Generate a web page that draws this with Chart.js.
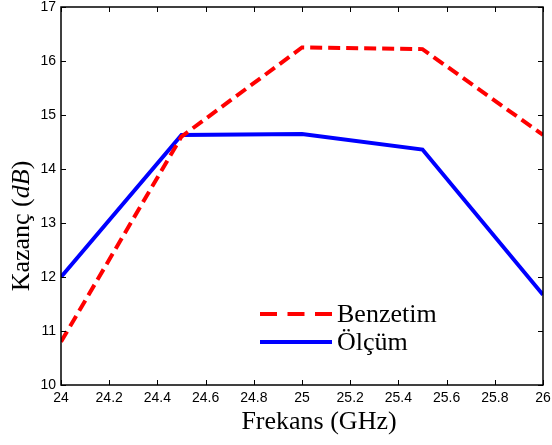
<!DOCTYPE html>
<html>
<head>
<meta charset="utf-8">
<script src="https://cdn.jsdelivr.net/npm/chart.js@4.4.1/dist/chart.umd.min.js"></script>
<style>
  html, body { margin: 0; padding: 0; background: #fff; }
  #wrap { width: 552px; height: 445px; }
</style>
</head>
<body>
<div id="wrap"><canvas id="c" width="552" height="445"></canvas></div>
<script>
// Frequency points (GHz)
const freqs = [24, 24.5, 25, 25.5, 26];
// Simulated gain (dB)
const benzetim = [10.8, 14.6, 16.25, 16.22, 14.63];
// Measured gain (dB)
const olcum = [12.0, 14.63, 14.65, 14.36, 11.67];
// Axis tick values and labels
const xTicks = [24, 24.2, 24.4, 24.6, 24.8, 25, 25.2, 25.4, 25.6, 25.8, 26];
const xTickLabels = ['24', '24.2', '24.4', '24.6', '24.8', '25', '25.2', '25.4', '25.6', '25.8', '26'];
const yTicks = [10, 11, 12, 13, 14, 15, 16, 17];
const seriesNames = ['Benzetim', 'Ölçüm'];

const tickFont = { family: 'Liberation Sans', size: 14 };
const serif = 'Liberation Serif';
const titleFont = '26px "' + serif + '"';

// Box frame with inward tick marks on all four sides
const framePlugin = {
  id: 'frame',
  afterDraw(chart) {
    const { ctx, chartArea: a, scales } = chart;
    ctx.save();
    ctx.strokeStyle = '#000';
    ctx.lineWidth = 1;
    const len = 5;
    ctx.beginPath();
    xTicks.forEach(v => {
      const x = Math.round(scales.x.getPixelForValue(v)) + 0.5;
      ctx.moveTo(x, a.bottom); ctx.lineTo(x, a.bottom - len);
      ctx.moveTo(x, a.top); ctx.lineTo(x, a.top + len);
    });
    yTicks.forEach(v => {
      const y = Math.round(scales.y.getPixelForValue(v)) + 0.5;
      ctx.moveTo(a.left, y); ctx.lineTo(a.left + len, y);
      ctx.moveTo(a.right, y); ctx.lineTo(a.right - len, y);
    });
    ctx.stroke();
    ctx.lineWidth = 1.5;
    ctx.strokeRect(a.left, a.top, a.right - a.left, a.bottom - a.top);
    ctx.restore();
  }
};

// Axis titles (y title has an italic unit)
const titlesPlugin = {
  id: 'titles',
  afterDraw(chart) {
    const { ctx } = chart;
    ctx.save();
    ctx.fillStyle = '#000';
    ctx.textBaseline = 'middle';
    ctx.textAlign = 'center';
    ctx.font = titleFont;
    ctx.fillText('Frekans (GHz)', 319, 422);

    const parts = [
      { t: 'Kazanç (', f: titleFont },
      { t: 'dB', f: 'italic ' + titleFont },
      { t: ')', f: titleFont }
    ];
    let total = 0;
    parts.forEach(p => { ctx.font = p.f; p.w = ctx.measureText(p.t).width; total += p.w; });
    ctx.translate(22, 226);
    ctx.rotate(-Math.PI / 2);
    ctx.textAlign = 'left';
    let x = -total / 2;
    parts.forEach(p => { ctx.font = p.f; ctx.fillText(p.t, x, 0); x += p.w; });
    ctx.restore();
  }
};

// Legend drawn inside the plot area
const legendPlugin = {
  id: 'innerLegend',
  afterDraw(chart) {
    const { ctx } = chart;
    ctx.save();
    const rows = [{ y: 314 }, { y: 342 }];
    chart.data.datasets.forEach((ds, i) => {
      const y = rows[i].y;
      ctx.strokeStyle = ds.borderColor;
      ctx.lineWidth = ds.borderWidth;
      ctx.setLineDash(ds.borderDash ? [17, 10.5] : []);
      ctx.beginPath();
      ctx.moveTo(260, y);
      ctx.lineTo(332, y);
      ctx.stroke();
      ctx.setLineDash([]);
      ctx.fillStyle = '#000';
      ctx.font = titleFont;
      ctx.textBaseline = 'middle';
      ctx.textAlign = 'left';
      ctx.fillText(ds.label, 337, y + 1);
    });
    ctx.restore();
  }
};

new Chart(document.getElementById('c'), {
  type: 'line',
  data: {
    datasets: [
      {
        label: seriesNames[0],
        data: freqs.map((f, i) => ({ x: f, y: benzetim[i] })),
        borderColor: '#ff0000',
        borderWidth: 4,
        borderDash: [12, 6],
        borderCapStyle: 'butt',
        pointRadius: 0,
        tension: 0,
        fill: false
      },
      {
        label: seriesNames[1],
        data: freqs.map((f, i) => ({ x: f, y: olcum[i] })),
        borderColor: '#0000ff',
        borderWidth: 4,
        pointRadius: 0,
        tension: 0,
        fill: false
      }
    ]
  },
  options: {
    responsive: false,
    animation: false,
    layout: { padding: { top: 7, right: 9, left: 0, bottom: 0 } },
    plugins: { legend: { display: false }, tooltip: { enabled: false } },
    scales: {
      x: {
        type: 'linear',
        min: 24,
        max: 26,
        afterBuildTicks(s) { s.ticks = xTicks.map(v => ({ value: v })); },
        afterFit(s) { s.height = 60; s.paddingLeft = 0; s.paddingRight = 0; },
        grid: { display: false, drawTicks: false },
        border: { display: false },
        ticks: {
          font: tickFont,
          color: '#000',
          padding: 5,
          maxRotation: 0,
          autoSkip: false,
          callback(v) { const i = xTicks.indexOf(v); return i >= 0 ? xTickLabels[i] : ''; }
        }
      },
      y: {
        min: 10,
        max: 17,
        afterBuildTicks(s) { s.ticks = yTicks.map(v => ({ value: v })); },
        afterFit(s) { s.width = 61; s.paddingTop = 0; s.paddingBottom = 0; },
        grid: { display: false, drawTicks: false },
        border: { display: false },
        ticks: { font: tickFont, color: '#000', padding: 5, autoSkip: false }
      }
    }
  },
  plugins: [framePlugin, titlesPlugin, legendPlugin]
});
</script>
</body>
</html>
